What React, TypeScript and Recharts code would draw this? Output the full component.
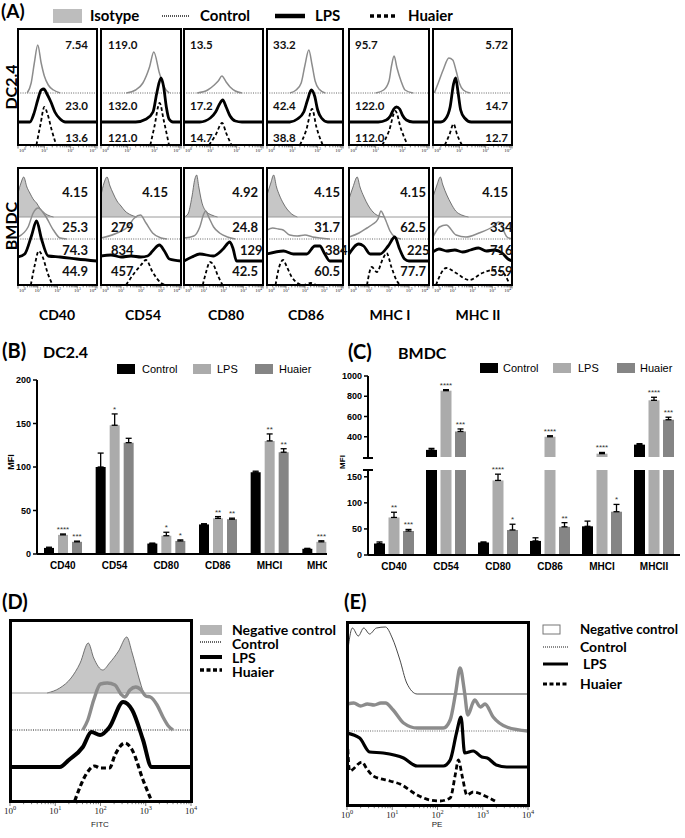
import React from 'react';
import {
  ComposedChart, Line, Area, XAxis, YAxis, ReferenceLine,
  BarChart, Bar, ErrorBar, LabelList,
} from 'recharts';

type Pt = [number, number];

// ---------- (A) flow histograms: [log10 intensity, height] ----------
const markers = ['CD40', 'CD54', 'CD80', 'CD86', 'MHC I', 'MHC II'];

// DC2.4 row (10^0 .. 10^3)
const dcControl: Pt[][] = [
  [[0.35, 0], [0.5, 10], [0.62, 30], [0.75, 48], [0.88, 30], [1.0, 17], [1.15, 8], [1.35, 3], [1.6, 0]],
  [[0.95, 0], [1.3, 3], [1.57, 10], [1.82, 26], [1.98, 41], [2.19, 20], [2.37, 6], [2.56, 0]],
  [[0.5, 0], [0.9, 3], [1.15, 8], [1.3, 12], [1.44, 17], [1.6, 11], [1.75, 6], [1.95, 2], [2.2, 0]],
  [[0.9, 0], [1.15, 3], [1.35, 10], [1.5, 28], [1.65, 43], [1.78, 28], [1.9, 12], [2.05, 4], [2.3, 0]],
  [[1.0, 0], [1.3, 3], [1.5, 12], [1.6, 28], [1.69, 37], [1.8, 25], [1.95, 12], [2.1, 3], [2.4, 0]],
  [[0.05, 0], [0.2, 10], [0.4, 24], [0.6, 35], [0.75, 33], [0.88, 22], [1.0, 10], [1.15, 3], [1.4, 0]],
];
const dcLps: Pt[][] = [
  [[0.45, 0], [0.6, 8], [0.75, 22], [0.88, 32], [0.98, 33], [1.1, 28], [1.25, 20], [1.4, 10], [1.6, 3], [1.8, 0]],
  [[1.3, 0], [1.7, 3], [1.95, 10], [2.1, 30], [2.25, 44], [2.35, 35], [2.45, 15], [2.55, 3], [2.7, 0]],
  [[0.6, 0], [1.0, 4], [1.2, 10], [1.35, 18], [1.47, 22], [1.6, 15], [1.75, 6], [1.95, 1], [2.2, 0]],
  [[0.9, 0], [1.2, 3], [1.45, 10], [1.6, 22], [1.75, 32], [1.88, 26], [2.0, 12], [2.15, 4], [2.4, 0]],
  [[1.1, 0], [1.4, 2], [1.55, 6], [1.68, 13], [1.78, 15], [1.9, 13], [2.0, 7], [2.15, 2], [2.4, 0]],
  [[0.3, 0], [0.5, 4], [0.65, 15], [0.78, 38], [0.86, 44], [0.95, 30], [1.05, 12], [1.2, 4], [1.45, 0]],
];
const dcHuaier: Pt[][] = [
  [[0.7, 0], [0.85, 20], [1.0, 38], [1.12, 31], [1.28, 15], [1.45, 0]],
  [[1.85, 0], [2.0, 18], [2.2, 42], [2.35, 25], [2.55, 0]],
  [[0.95, 0], [1.2, 10], [1.45, 22], [1.6, 12], [1.8, 0]],
  [[1.3, 0], [1.55, 15], [1.78, 36], [1.95, 18], [2.2, 0]],
  [[1.25, 0], [1.5, 14], [1.74, 34], [1.95, 16], [2.2, 0]],
  [[0.45, 0], [0.62, 10], [0.78, 21], [0.92, 10], [1.1, 0]],
];
const dcValues = [
  ['7.54', '23.0', '13.6'], ['119.0', '132.0', '121.0'], ['13.5', '17.2', '14.7'],
  ['33.2', '42.4', '38.8'], ['95.7', '122.0', '112.0'], ['5.72', '14.7', '12.7'],
];

// BMDC row (10^0 .. 10^4)
const bmIsotype: Pt[][] = [
  [[0, 24], [0.15, 34], [0.29, 40], [0.45, 30], [0.6, 24], [0.8, 17], [0.94, 14], [1.1, 9], [1.28, 5], [1.5, 2], [1.8, 0]],
  [[0, 22], [0.15, 34], [0.3, 40], [0.45, 31], [0.6, 24], [0.8, 16], [1.0, 11], [1.2, 6], [1.5, 2], [1.8, 0]],
  [[0, 0], [0.2, 3], [0.4, 20], [0.55, 38], [0.64, 42], [0.75, 30], [0.9, 15], [1.1, 6], [1.4, 2], [1.7, 0]],
  [[0, 22], [0.2, 34], [0.35, 42], [0.5, 30], [0.65, 22], [0.85, 14], [1.05, 8], [1.3, 3], [1.6, 0]],
  [[0, 18], [0.2, 30], [0.41, 40], [0.55, 30], [0.75, 20], [0.95, 12], [1.2, 5], [1.5, 1], [1.8, 0]],
  [[0, 20], [0.2, 32], [0.37, 40], [0.5, 32], [0.7, 22], [0.9, 14], [1.15, 6], [1.45, 2], [1.8, 0]],
];
const bmControl: Pt[][] = [
  [[0, 2], [0.51, 12], [0.77, 26], [1.02, 31], [1.36, 24], [1.79, 9], [2.13, 1], [2.47, 0]],
  [[0, 1], [0.92, 7], [1.33, 12], [1.67, 21], [1.97, 24], [2.25, 16], [2.58, 6], [3.0, 1], [3.3, 0]],
  [[0, 1], [0.5, 3], [0.8, 12], [1.0, 25], [1.1, 28], [1.25, 22], [1.5, 12], [1.8, 6], [2.2, 2], [2.6, 0]],
  [[0, 9], [0.3, 11], [0.6, 10], [0.85, 9], [1.2, 4], [1.6, 3], [2.0, 4], [2.4, 2], [2.8, 1], [3.3, 0]],
  [[0, 2], [0.5, 6], [0.9, 11], [1.2, 15], [1.45, 20], [1.6, 28], [1.72, 24], [1.85, 18], [2.05, 8], [2.3, 2], [2.6, 0]],
  [[0, 2], [0.33, 12], [0.67, 14], [1.17, 4], [1.67, 2], [2.33, 6], [3.0, 12], [3.33, 17], [3.75, 2], [4, 0]],
];
const bmLps: Pt[][] = [
  [[0, 4], [0.34, 7], [0.68, 25], [0.94, 40], [1.19, 22], [1.53, 5], [2.13, 4], [2.98, 2], [4, 0]],
  [[0, 5], [0.5, 6], [1.0, 4], [1.5, 5], [2.0, 4], [2.33, 5], [2.58, 10], [2.92, 16], [3.17, 10], [3.42, 2], [4, 0]],
  [[0, 0], [0.4, 4], [0.8, 7], [1.48, 5], [1.98, 12], [2.32, 19], [2.49, 12], [2.66, 0], [4, 0]],
  [[0, 7], [0.87, 10], [1.39, 7], [2.09, 7], [2.52, 15], [2.78, 15], [3.04, 7], [3.3, 0], [4, 0]],
  [[0, 7], [0.49, 17], [0.73, 15], [1.06, 7], [1.55, 7], [1.96, 15], [2.29, 24], [2.53, 12], [2.78, 2], [3.0, 0], [4, 0]],
  [[0, 9], [0.3, 12], [0.7, 10], [1.1, 11], [1.5, 9], [1.9, 11], [2.3, 13], [2.7, 10], [3.1, 11], [3.5, 8], [3.8, 2], [4, 0]],
];
const bmHuaier: Pt[][] = [
  [[0.65, 0], [0.85, 20], [1.05, 34], [1.25, 28], [1.5, 12], [1.75, 0]],
  [[1.25, 0], [1.67, 12], [2.0, 20], [2.25, 25], [2.58, 13], [3.0, 2], [3.2, 0]],
  [[0.95, 0], [1.15, 15], [1.3, 23], [1.5, 20], [1.7, 10], [1.95, 0]],
  [[0.45, 0], [0.6, 15], [0.85, 25], [1.05, 18], [1.3, 8], [1.6, 2], [1.9, 0], [2.3, 2], [2.6, 0]],
  [[0.9, 0], [1.14, 18], [1.39, 13], [1.71, 27], [1.88, 32], [2.12, 18], [2.37, 5], [2.55, 0]],
  [[0.15, 0], [0.67, 17], [1.17, 12], [1.83, 5], [2.5, 12], [3.0, 15], [3.5, 13], [3.83, 3]],
];
const bmValues = [
  ['4.15', '25.3', '74.3', '44.9'], ['4.15', '279', '834', '457'], ['4.92', '24.8', '129', '42.5'],
  ['4.15', '31.7', '384', '60.5'], ['4.15', '62.5', '225', '77.7'], ['4.15', '334', '716', '559'],
];

// ---------- (B) / (C) MFI bars ----------
const barCats = ['CD40', 'CD54', 'CD80', 'CD86', 'MHCI', 'MHCII'];
const barSeries = ['Control', 'LPS', 'Huaier'];

const dcMfiCtrl = [7, 100, 12, 34, 94, 6];
const dcMfiLps = [22, 148, 21, 41, 130, 14];
const dcMfiHuaier = [14, 128, 15, 40, 117, 10];
const dcErrCtrl = [0.8, 16, 0.5, 0.8, 1.2, 0.5];
const dcErrLps = [1, 13, 4, 2, 8, 1.2];
const dcErrHuaier = [0.8, 5, 1.2, 1.2, 4, 1];
const dcSigLps = ['****', '*', '*', '**', '**', '***'];
const dcSigHuaier = ['***', '', '*', '**', '**', ''];

const bmMfiCtrl = [22, 270, 24, 27, 55, 322];
const bmMfiLps = [72, 855, 143, 400, 233, 760];
const bmMfiHuaier = [46, 452, 48, 54, 83, 568];
const bmErrCtrl = [3, 15, 1, 6, 10, 10];
const bmErrLps = [10, 10, 12, 10, 12, 30];
const bmErrHuaier = [3, 25, 11, 8, 14, 25];
const bmSigLps = ['**', '****', '****', '****', '****', '****'];
const bmSigHuaier = ['***', '***', '*', '**', '*', '***'];
const noSig = ['', '', '', '', '', ''];

// ---------- (D) FITC / (E) PE overlays ----------
const dNegative: Pt[] = [[0.82, 0], [1.1, 5], [1.35, 15], [1.55, 30], [1.73, 50], [1.85, 35], [2.05, 23], [2.2, 30], [2.4, 42], [2.58, 56], [2.7, 40], [2.85, 15], [2.95, 0]];
const dControl: Pt[] = [[1.61, 0], [1.72, 10], [1.85, 30], [2.0, 46], [2.15, 47], [2.32, 45], [2.45, 36], [2.54, 33], [2.65, 40], [2.78, 43], [2.9, 40], [3.0, 34], [3.1, 33], [3.25, 25], [3.38, 13], [3.5, 4], [3.6, 0]];
const dLps: Pt[] = [[1.1, 0], [1.3, 7], [1.61, 20], [1.8, 35], [1.99, 32], [2.2, 40], [2.5, 65], [2.7, 57], [2.94, 27], [3.13, 0]];
const dHuaier: Pt[] = [[1.43, 0], [1.7, 28], [1.87, 35], [1.99, 33], [2.2, 33], [2.32, 46], [2.54, 58], [2.7, 51], [2.94, 21], [3.13, 0]];

const eNegative: Pt[] = [[0, 37], [0.12, 66], [0.25, 58], [0.37, 66], [0.5, 60], [0.65, 66], [0.85, 67], [1.0, 56], [1.17, 34], [1.32, 11], [1.55, 0], [4, 0]];
const eControl: Pt[] = [[0, 27], [0.15, 28], [0.3, 25], [0.45, 27], [0.6, 26], [0.75, 28], [0.85, 28], [1.02, 21], [1.25, 8], [1.55, 3], [2.13, 3], [2.28, 11], [2.4, 38], [2.5, 63], [2.6, 38], [2.67, 16], [2.78, 28], [2.82, 31], [2.95, 24], [3.05, 27], [3.23, 14], [3.53, 4], [4, 0]];
const eLps: Pt[] = [[0, 34], [0.28, 29], [0.5, 15], [0.8, 14], [1.25, 9], [1.55, 1], [2.13, 1], [2.28, 7], [2.42, 34], [2.52, 50], [2.6, 14], [2.79, 16], [2.98, 10], [3.1, 9], [3.3, 2], [3.53, 0], [4, 0]];
const eHuaier: Pt[] = [[0, 72], [0.06, 34], [0.33, 43], [0.44, 36], [0.58, 29], [0.95, 24], [1.17, 21], [1.55, 10], [1.83, 5], [2.05, 4], [2.28, 7], [2.4, 32], [2.46, 45], [2.55, 28], [2.65, 10], [2.79, 13], [3.1, 8], [3.27, 4]];

// ---------- layout ----------
const CAL = "Lato, 'Open Sans', sans-serif";
const ARIAL = "'Liberation Sans', Arial, sans-serif";
const SERIF = "'Liberation Serif', 'Times New Roman', serif";

const colLeft = [18, 101, 184, 267, 349, 433];
const colWidth = [79, 80, 79, 76, 80, 79];
const markerX = [57, 143, 226, 306, 390, 478];
const dcOff = [52, 23, 0];
const bmOff = [68, 46, 24, 0];
const dcLabelY = [15, 76, 108];
const dcLabelX: [number, string][] = [[70, 'end'], [7, 'start'], [6, 'start'], [6, 'start'], [6, 'start'], [75, 'end']];
const bmLabelY = [24, 59, 82, 103];
const bmLabelX: [number, string][][] = [
  [[70, 'end'], [70, 'end'], [70, 'end'], [70, 'end']],
  [[67, 'end'], [10, 'start'], [10, 'start'], [10, 'start']],
  [[74, 'end'], [74, 'end'], [56, 'start'], [74, 'end']],
  [[73, 'end'], [73, 'end'], [58, 'start'], [73, 'end']],
  [[77, 'end'], [77, 'end'], [58, 'start'], [77, 'end']],
  [[75, 'end'], [57, 'start'], [57, 'start'], [57, 'start']],
];
const barFill = ['#000000', '#ababab', '#858585'];
const barKeys = ['ctrl', 'lps', 'hua'];

type Sty = { ctrlW: number; lpsW: number; huaW: number; huaDash: string; dotW: number };
const SMALL: Sty = { ctrlW: 1.5, lpsW: 2.8, huaW: 1.8, huaDash: '3.5 2.5', dotW: 1 };
const BIG_D: Sty = { ctrlW: 3.4, lpsW: 4, huaW: 3.2, huaDash: '5 3', dotW: 1.4 };
const BIG_E: Sty = { ctrlW: 3.4, lpsW: 3.2, huaW: 2.8, huaDash: '5 3', dotW: 1.2 };

type Series = { kind: string; pts: Pt[]; off: number };

const logTicks = (max: number) => {
  const t: number[] = [];
  for (let d = 0; d < max; d++) for (let k = 1; k < 10; k++) t.push(d + Math.log10(k));
  t.push(max);
  return t;
};

const pad = (pts: Pt[], max: number): Pt[] => [
  ...(pts[0][0] > 0 ? [[0, 0] as Pt] : []),
  ...pts,
  ...(pts[pts.length - 1][0] < max ? [[max, 0] as Pt] : []),
];

const LogTick = ({ x, y, payload, fs, len, max, inset }: any) => {
  const v = payload.value as number;
  const major = Math.abs(v - Math.round(v)) < 1e-6;
  let anchor = 'middle';
  let tx = x;
  if (inset && v < 1e-6) { anchor = 'start'; tx = x + 1; }
  if (inset && Math.abs(v - max) < 1e-6) { anchor = 'end'; tx = x - 1; }
  return (
    <g>
      <line x1={x} x2={x} y1={y + 1} y2={y + 1 + (major ? len : len * 0.55)} stroke="#444" strokeWidth={0.7} />
      {major ? (
        <text x={tx} y={y + len + fs * 0.95} textAnchor={anchor as any} fontSize={fs} fontFamily={SERIF} fill="#222">
          10<tspan dy={-fs * 0.45} fontSize={fs * 0.7}>{Math.round(v)}</tspan>
        </text>
      ) : null}
    </g>
  );
};

const seriesEls = (s: Series, k: string, max: number, st: Sty) => {
  const rows = (pts: Pt[]) => pts.map(([x, y]) => ({ x, y: y + s.off }));
  const common = { dataKey: 'y', type: 'monotone' as const, dot: false, activeDot: false, isAnimationActive: false };
  if (s.kind === 'iso') {
    return [
      <ReferenceLine key={k + 'b'} y={s.off} stroke="#9a9a9a" strokeWidth={1} />,
      <Area key={k} {...common} data={rows(s.pts)} baseValue={s.off} fill="#c6c6c6" fillOpacity={1} stroke="#555" strokeWidth={0.8} />,
    ];
  }
  if (s.kind === 'negLine') {
    return [<Line key={k} {...common} data={rows(pad(s.pts, max))} stroke="#333" strokeWidth={0.9} />];
  }
  if (s.kind === 'ctrl') {
    return [
      <ReferenceLine key={k + 'b'} y={s.off} stroke="#666" strokeWidth={st.dotW} strokeDasharray="1 1.3" />,
      <Line key={k} {...common} data={rows(s.pts)} stroke="#8c8c8c" strokeWidth={st.ctrlW} />,
    ];
  }
  if (s.kind === 'lps') {
    return [<Line key={k} {...common} data={rows(pad(s.pts, max))} stroke="#000" strokeWidth={st.lpsW} />];
  }
  return [<Line key={k} {...common} data={rows(s.pts)} stroke="#000" strokeWidth={st.huaW} strokeDasharray={st.huaDash} />];
};

type Txt = { s: string; x: number; y: number; anchor: string; fs: number };

const FlowPanel = ({ left, top, w, h, max, series, axisH, tickFs, tickLen, frameW, st, texts, mx, inset }: {
  left: number; top: number; w: number; h: number; max: number; series: Series[]; axisH: number;
  tickFs: number; tickLen: number; frameW: number; st: Sty; texts?: Txt[]; mx: number; inset: boolean;
}) => (
  <div style={{ position: 'absolute', left: left - mx, top, width: w + 2 * mx, height: h + axisH }}>
    <ComposedChart width={w + 2 * mx} height={h + axisH} margin={{ top: 0, right: mx, bottom: 0, left: mx }}>
      <XAxis
        type="number" dataKey="x" domain={[0, max]} allowDataOverflow ticks={logTicks(max)} interval={0}
        height={axisH} axisLine={false} tickLine={false} tickSize={0} tickMargin={0}
        tick={(p: any) => <LogTick {...p} fs={tickFs} len={tickLen} max={max} inset={inset} />}
      />
      <YAxis type="number" hide domain={[0, h]} allowDataOverflow />
      {series.flatMap((s, i) => seriesEls(s, 's' + i, max, st))}
    </ComposedChart>
    <div style={{
      position: 'absolute', left: mx - frameW / 2, top: -frameW / 2, width: w + frameW, height: h + frameW,
      border: `${frameW}px solid #000`, boxSizing: 'border-box', pointerEvents: 'none',
    }} />
    {texts ? (
      <svg width={w} height={h} style={{ position: 'absolute', left: mx, top: 0, overflow: 'visible', pointerEvents: 'none' }}>
        {texts.map((t, j) => (
          <text key={j} x={t.x} y={t.y} textAnchor={t.anchor as any} dominantBaseline="central"
            fontSize={t.fs} fontWeight={700} fontFamily={CAL} fill="#111">{t.s}</text>
        ))}
      </svg>
    ) : null}
  </div>
);

const mkRows = (vals: number[][], errs: number[][]) => barCats.map((cat, i) => {
  const r: any = { cat };
  barKeys.forEach((k, j) => { r[k] = vals[j][i]; r[k + 'E'] = [0, errs[j][i]]; });
  return r;
});

const stars = (sig: string[], vals: number[], errs: number[], lo: number, hi: number) => (p: any) => {
  const vb = p.viewBox || {};
  const x = vb.x ?? p.x; const y = vb.y ?? p.y;
  const w = vb.width ?? p.width; const hh = vb.height ?? p.height;
  const i = barCats.indexOf(p.value);
  if (i < 0 || !sig[i]) return null;
  const v = vals[i];
  if (v < lo || v > hi) return null;
  const ppu = Math.abs(hh) / (v - lo);
  const top = Math.min(y, y + hh) - errs[i] * ppu;
  return (
    <text x={x + w / 2} y={top - 2} textAnchor="middle" fontSize={8} fontFamily={ARIAL} fill="#333">{sig[i]}</text>
  );
};

const bars = (vals: number[][], errs: number[][], sigs: string[][], lo: number, hi: number) =>
  barKeys.map((key, j) => (
    <Bar key={key} dataKey={key} name={barSeries[j]} fill={barFill[j]} isAnimationActive={false}>
      <ErrorBar dataKey={key + 'E'} width={3} strokeWidth={1.3} stroke="#000" />
      <LabelList dataKey="cat" content={stars(sigs[j], vals[j], errs[j], lo, hi)} />
    </Bar>
  ));

const yTick = { fontSize: 9, fontWeight: 700, fill: '#000', fontFamily: ARIAL };
const xTick = { fontSize: 10, fontWeight: 700, fill: '#000', fontFamily: ARIAL };
const axisLine = { stroke: '#000', strokeWidth: 2 };
const tickLine = { stroke: '#000', strokeWidth: 1.5 };

export default function App() {
  const dcVals = [dcMfiCtrl, dcMfiLps, dcMfiHuaier];
  const dcErrs = [dcErrCtrl, dcErrLps, dcErrHuaier];
  const dcSigs = [noSig, dcSigLps, dcSigHuaier];
  const bmVals = [bmMfiCtrl, bmMfiLps, bmMfiHuaier];
  const bmErrs = [bmErrCtrl, bmErrLps, bmErrHuaier];
  const bmSigs = [noSig, bmSigLps, bmSigHuaier];
  const dcRows = mkRows(dcVals, dcErrs);
  const bmRows = mkRows(bmVals, bmErrs);

  const legendSwatch = (x: number, y: number, j: number) => (
    <rect x={x} y={y} width={18} height={10} fill={barFill[j]} />
  );

  return (
    <div style={{ position: 'absolute', left: 0, top: 0, width: 685, height: 838, background: '#fff', overflow: 'hidden' }}>
      {/* (A) DC2.4 row */}
      {markers.map((m, i) => (
        <FlowPanel
          key={'dc' + m} left={colLeft[i]} top={29} w={colWidth[i]} h={116} max={3} mx={1} inset
          axisH={14} tickFs={5} tickLen={2.5} frameW={2.5} st={SMALL}
          series={[
            { kind: 'ctrl', pts: dcControl[i], off: dcOff[0] },
            { kind: 'lps', pts: dcLps[i], off: dcOff[1] },
            { kind: 'hua', pts: dcHuaier[i], off: dcOff[2] },
          ]}
          texts={dcValues[i].map((s, j) => ({ s, x: dcLabelX[i][0], y: dcLabelY[j], anchor: dcLabelX[i][1], fs: 11.5 }))}
        />
      ))}
      {/* (A) BMDC row */}
      {markers.map((m, i) => (
        <FlowPanel
          key={'bm' + m} left={colLeft[i]} top={168} w={colWidth[i]} h={117} max={4} mx={1} inset
          axisH={14} tickFs={5} tickLen={2.5} frameW={2.5} st={SMALL}
          series={[
            { kind: 'iso', pts: bmIsotype[i], off: bmOff[0] },
            { kind: 'ctrl', pts: bmControl[i], off: bmOff[1] },
            { kind: 'lps', pts: bmLps[i], off: bmOff[2] },
            { kind: 'hua', pts: bmHuaier[i], off: bmOff[3] },
          ]}
          texts={bmValues[i].map((s, j) => ({ s, x: bmLabelX[i][j][0], y: bmLabelY[j], anchor: bmLabelX[i][j][1], fs: 13 }))}
        />
      ))}

      {/* (B) DC2.4 MFI */}
      <div style={{ position: 'absolute', left: 0, top: 370, width: 327, height: 204, overflow: 'hidden' }}>
        <BarChart width={347} height={204} data={dcRows} margin={{ top: 10, right: 0, left: 0, bottom: 0 }} barSize={10} barGap={4}>
          <XAxis dataKey="cat" height={20} interval={0} tick={xTick} tickLine={false} axisLine={axisLine} />
          <YAxis width={37} domain={[0, 200]} ticks={[0, 50, 100, 150, 200]} tick={yTick} tickLine={tickLine} tickSize={4} axisLine={axisLine} />
          {bars(dcVals, dcErrs, dcSigs, 0, 200)}
        </BarChart>
      </div>

      {/* (C) BMDC MFI, broken axis: upper segment */}
      <div style={{ position: 'absolute', left: 330, top: 366, width: 350, height: 91 }}>
        <BarChart width={350} height={91} data={bmRows} margin={{ top: 10, right: 0, left: 0, bottom: 0 }} barSize={11} barGap={3.5}>
          <XAxis dataKey="cat" hide />
          <YAxis width={38} domain={[200, 1000]} allowDataOverflow ticks={[200, 400, 600, 800, 1000]} tick={yTick} tickLine={tickLine} tickSize={4} axisLine={axisLine} />
          {bars(bmVals, bmErrs, bmSigs, 200, 1000)}
        </BarChart>
      </div>
      {/* (C) lower segment */}
      <div style={{ position: 'absolute', left: 330, top: 460, width: 350, height: 115 }}>
        <BarChart width={350} height={115} data={bmRows} margin={{ top: 10, right: 0, left: 0, bottom: 0 }} barSize={11} barGap={3.5}>
          <XAxis dataKey="cat" height={20} interval={0} tick={xTick} tickLine={false} axisLine={axisLine} />
          <YAxis width={38} domain={[0, 163]} allowDataOverflow ticks={[0, 50, 100, 150]} tick={yTick} tickLine={tickLine} tickSize={4} axisLine={axisLine} />
          {bars(bmVals, bmErrs, bmSigs, 0, 163)}
        </BarChart>
      </div>

      {/* (D) FITC */}
      <FlowPanel
        left={10} top={620} w={181} h={181} max={4} mx={9} inset={false}
        axisH={20} tickFs={9} tickLen={4} frameW={3} st={BIG_D}
        series={[
          { kind: 'iso', pts: dNegative, off: 108 },
          { kind: 'ctrl', pts: dControl, off: 71 },
          { kind: 'lps', pts: dLps, off: 34 },
          { kind: 'hua', pts: dHuaier, off: 0 },
        ]}
      />
      {/* (E) PE */}
      <FlowPanel
        left={347} top={622} w={181} h={183} max={4} mx={9} inset={false}
        axisH={20} tickFs={9} tickLen={4} frameW={3} st={BIG_E}
        series={[
          { kind: 'negLine', pts: eNegative, off: 111 },
          { kind: 'ctrl', pts: eControl, off: 74 },
          { kind: 'lps', pts: eLps, off: 38 },
          { kind: 'hua', pts: eHuaier, off: 0 },
        ]}
      />

      {/* titles, legends, labels */}
      <svg width={685} height={838} style={{ position: 'absolute', left: 0, top: 0, pointerEvents: 'none' }}>
        <g fontFamily={CAL} fontWeight={700} fill="#000">
          <text x={1} y={18} fontSize={19}>(A)</text>
          <rect x={53} y={9} width={29} height={14} fill="#bdbdbd" />
          <text x={90} y={21} fontSize={15}>Isotype</text>
          <line x1={162} x2={190} y1={16} y2={16} stroke="#555" strokeWidth={2.2} strokeDasharray="1 1" />
          <text x={200} y={21} fontSize={15}>Control</text>
          <line x1={275} x2={305} y1={16} y2={16} stroke="#000" strokeWidth={4.5} />
          <text x={315} y={21} fontSize={15}>LPS</text>
          <line x1={370} x2={398} y1={16} y2={16} stroke="#000" strokeWidth={3.5} strokeDasharray="4 3" />
          <text x={408} y={21} fontSize={15}>Huaier</text>

          <text transform="translate(10,87) rotate(-90)" textAnchor="middle" dominantBaseline="central" fontSize={16}>DC2.4</text>
          <text transform="translate(10,226) rotate(-90)" textAnchor="middle" dominantBaseline="central" fontSize={16}>BMDC</text>
          {markers.map((m, i) => (
            <text key={m} x={markerX[i]} y={320} textAnchor="middle" fontSize={14}>{m}</text>
          ))}

          <text x={2} y={358} fontSize={20}>(B)</text>
          <text x={43} y={358} fontSize={16}>DC2.4</text>
          <text x={348} y={359} fontSize={20}>(C)</text>
          <text x={398} y={359} fontSize={16}>BMDC</text>

          <text x={2} y={609} fontSize={20}>(D)</text>
          <text x={344} y={609} fontSize={20}>(E)</text>
        </g>

        {/* B / C legends */}
        <g fontFamily={ARIAL} fontSize={11} fill="#000">
          {legendSwatch(117, 364, 0)}<text x={142} y={373}>Control</text>
          {legendSwatch(193, 364, 1)}<text x={217} y={373}>LPS</text>
          {legendSwatch(255, 364, 2)}<text x={279} y={373}>Huaier</text>
          {legendSwatch(480, 363, 0)}<text x={503} y={372}>Control</text>
          {legendSwatch(553, 363, 1)}<text x={578} y={372}>LPS</text>
          {legendSwatch(617, 363, 2)}<text x={640} y={372}>Huaier</text>
        </g>
        <g fontFamily={ARIAL} fontWeight={700} fill="#000">
          <text transform="translate(11,462) rotate(-90)" textAnchor="middle" dominantBaseline="central" fontSize={9}>MFI</text>
          <text transform="translate(342,462) rotate(-90)" textAnchor="middle" dominantBaseline="central" fontSize={8}>MFI</text>
        </g>
        {/* axis break marks */}
        <line x1={363} x2={373} y1={458} y2={458} stroke="#000" strokeWidth={2} />
        <line x1={363} x2={373} y1={470} y2={470} stroke="#000" strokeWidth={2} />

        {/* D legend */}
        <g fontFamily={CAL} fontWeight={700} fontSize={14} fill="#000">
          <rect x={200} y={625} width={22} height={10} fill="#b5b5b5" />
          <text x={232} y={635} textLength={104} lengthAdjust="spacingAndGlyphs">Negative control</text>
          <line x1={200} x2={222} y1={642} y2={642} stroke="#666" strokeWidth={2} strokeDasharray="1 1" />
          <text x={232} y={649}>Control</text>
          <line x1={200} x2={222} y1={657} y2={657} stroke="#000" strokeWidth={4} />
          <text x={232} y={663}>LPS</text>
          <line x1={200} x2={222} y1={670} y2={670} stroke="#000" strokeWidth={3.5} strokeDasharray="4 2.5" />
          <text x={232} y={677}>Huaier</text>
        </g>
        {/* E legend */}
        <g fontFamily={CAL} fontWeight={700} fontSize={14} fill="#000">
          <rect x={543} y={625} width={17} height={9} fill="#fff" stroke="#777" strokeWidth={1} />
          <text x={580} y={634} textLength={98} lengthAdjust="spacingAndGlyphs">Negative control</text>
          <line x1={543} x2={568} y1={647} y2={647} stroke="#666" strokeWidth={1.5} strokeDasharray="1 1" />
          <text x={580} y={652}>Control</text>
          <line x1={543} x2={568} y1={664} y2={664} stroke="#000" strokeWidth={3} />
          <text x={583} y={669}>LPS</text>
          <line x1={543} x2={568} y1={684} y2={684} stroke="#000" strokeWidth={3} strokeDasharray="4 2.5" />
          <text x={580} y={689}>Huaier</text>
        </g>

        <g fontFamily={ARIAL} fontSize={8} fill="#222">
          <text x={100} y={827} textAnchor="middle">FITC</text>
          <text x={437} y={827} textAnchor="middle">PE</text>
        </g>
      </svg>
    </div>
  );
}
